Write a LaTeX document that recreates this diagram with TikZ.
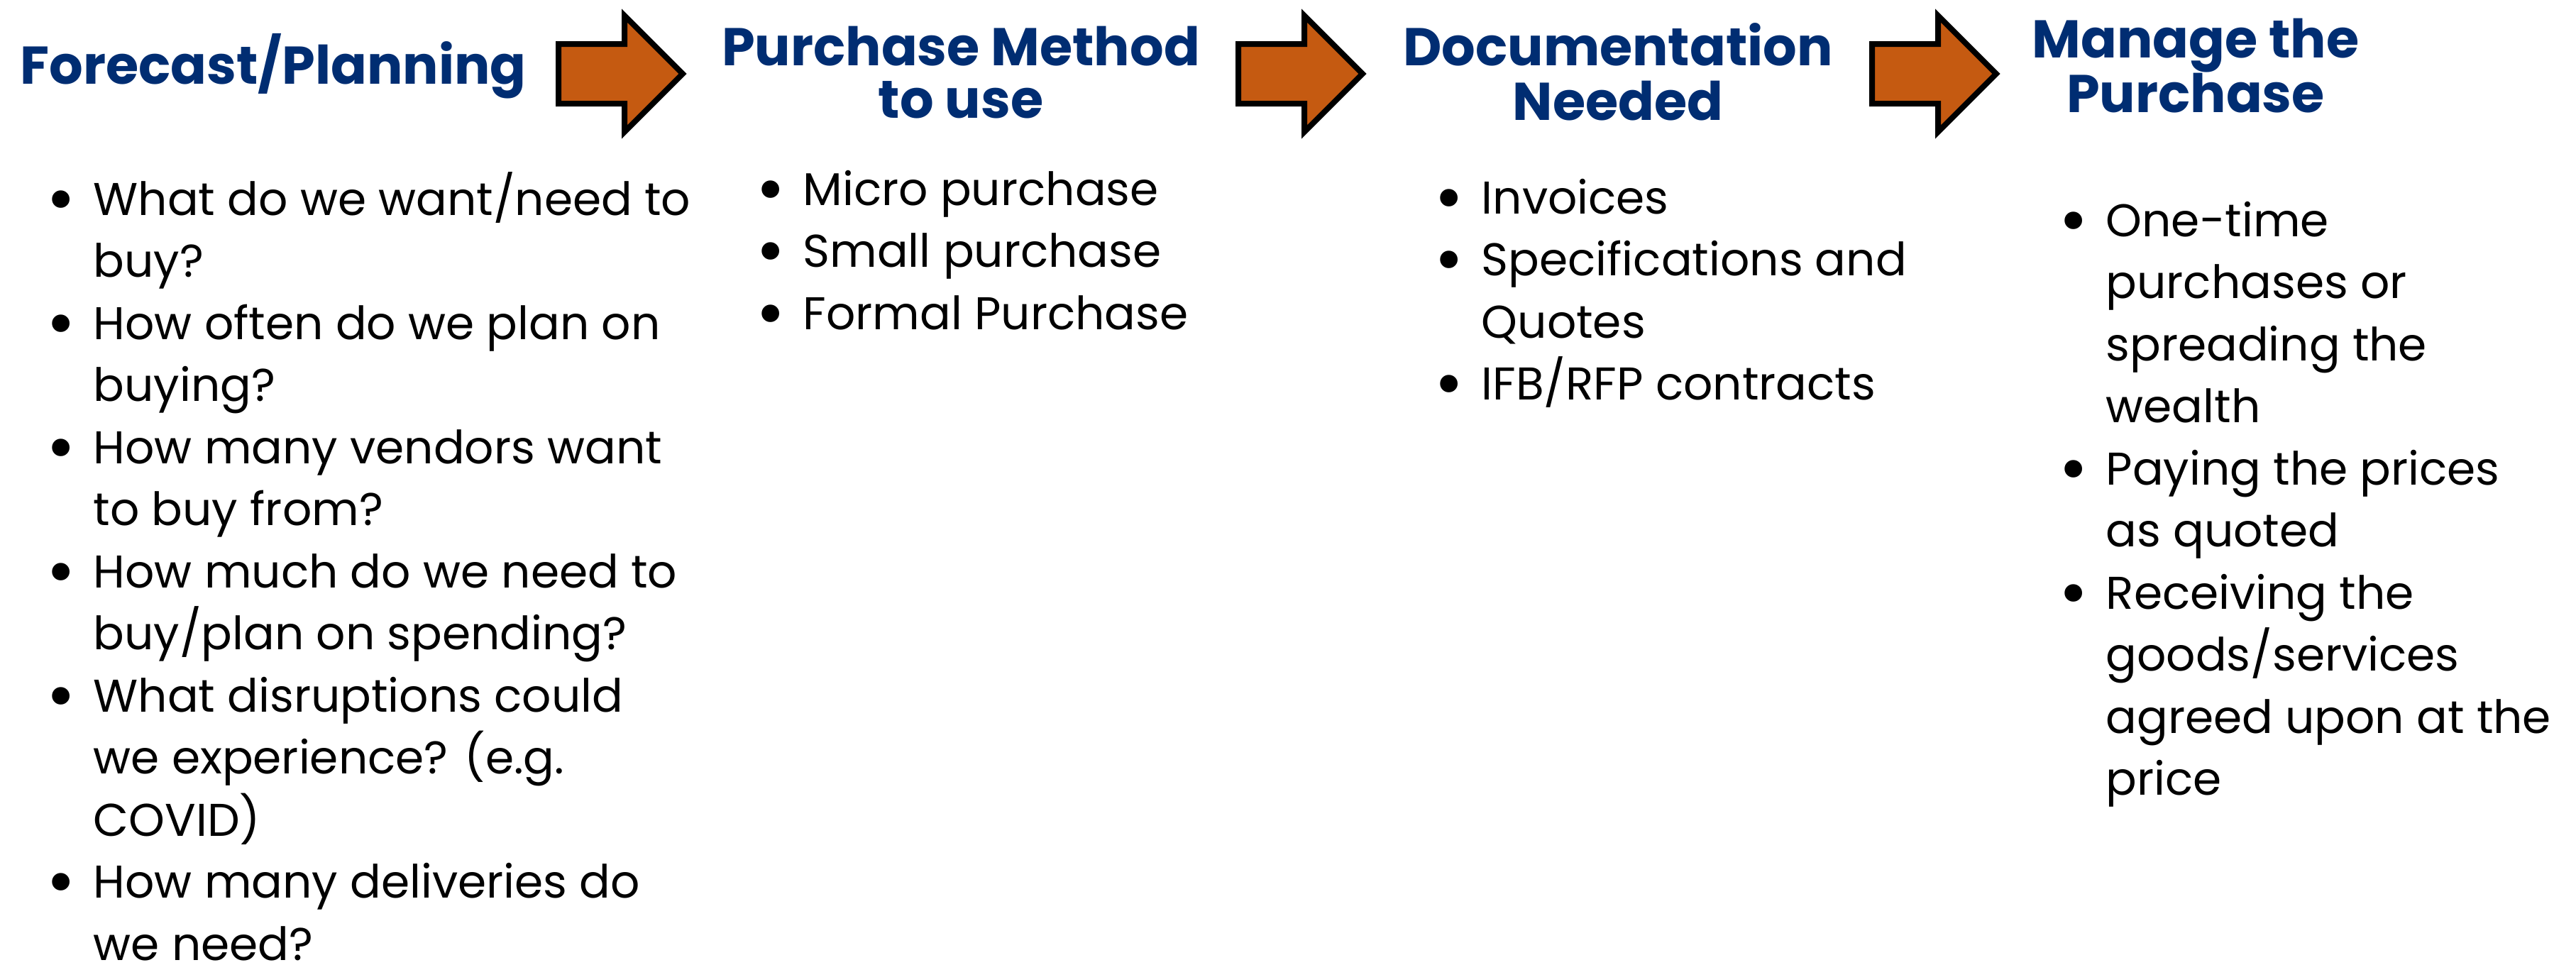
\documentclass[tikz,border=0pt]{standalone}
\usepackage{fontspec}
\setmainfont{Poppins}
\usepackage{xcolor}
\usepackage{graphicx}
\usepackage{array}

\definecolor{navy}{RGB}{0,45,114}
\definecolor{burnt}{RGB}{197,90,17}

\newcommand{\bigdot}{\hspace*{-0.09cm}\raisebox{-0.17em}{\scalebox{1.55}{\textbullet}}}

\tikzset{
  head/.style={font=\fontsize{21.3}{21}\selectfont\bfseries, text=navy, inner sep=0pt, anchor=base},
  body/.style={font=\fontsize{18.4}{24.9}\selectfont, inner sep=0pt, anchor=base west},
  blockarrow/.style={fill=burnt, draw=black, line width=0.08cm, line join=miter},
}

\begin{document}
\begin{tikzpicture}
    \useasboundingbox (0,0) rectangle (36.30,-13.59);
    %% headings
    \node[head] (plan) at (3.85,-1.18) {Forecast/Planning};
    \node[head] (method) at (13.54,-0.92) {\begin{tabular}[t]{@{}c@{}}Purchase Method\\ to use\end{tabular}};
    \node[head] (docs) at (22.80,-0.92) {\begin{tabular}[t]{@{}c@{}}Documentation\\ Needed\end{tabular}};
    \node[head] (manage) at (30.94,-0.81) {\begin{tabular}[t]{@{}c@{}}Manage the\\ Purchase\end{tabular}};
    %% arrows between the steps
    \foreach \ax in {7.87,17.45,26.38}
      \draw[blockarrow] (\ax,-0.62) -- (\ax+0.93,-0.62) -- (\ax+0.93,-0.22) -- (\ax+1.75,-1.04)
        -- (\ax+0.93,-1.86) -- (\ax+0.93,-1.46) -- (\ax,-1.46) -- cycle;
    %% bullet lists
    \node[body] (planlist) at (0.74,-3.03) {\begin{tabular}[t]{@{}p{0.57cm}@{}l@{}}
      \bigdot & What do we want/need to\\
              & buy?\\
      \bigdot & How often do we plan on\\
              & buying?\\
      \bigdot & How many vendors want\\
              & to buy from?\\
      \bigdot & How much do we need to\\
              & buy/plan on spending?\\
      \bigdot & What disruptions could\\
              & we experience? (e.g.\\
              & COVID)\\
      \bigdot & How many deliveries do\\
              & we need?
    \end{tabular}};
    \node[body] (methodlist) at (10.74,-2.89) {\begin{tabular}[t]{@{}p{0.57cm}@{}l@{}}
      \bigdot & Micro purchase\\
      \bigdot & Small purchase\\
      \bigdot & Formal Purchase
    \end{tabular}};
    \node[body] (docslist) at (20.30,-3.01) {\begin{tabular}[t]{@{}p{0.57cm}@{}l@{}}
      \bigdot & Invoices\\
      \bigdot & Specifications and\\
              & Quotes\\
      \bigdot & IFB/RFP contracts
    \end{tabular}};
    \node[body] (managelist) at (29.10,-3.33) {\begin{tabular}[t]{@{}p{0.57cm}@{}l@{}}
      \bigdot & One-time\\
              & purchases or\\
              & spreading the\\
              & wealth\\
      \bigdot & Paying the prices\\
              & as quoted\\
      \bigdot & Receiving the\\
              & goods/services\\
              & agreed upon at the\\
              & price
    \end{tabular}};
\end{tikzpicture}
\end{document}
